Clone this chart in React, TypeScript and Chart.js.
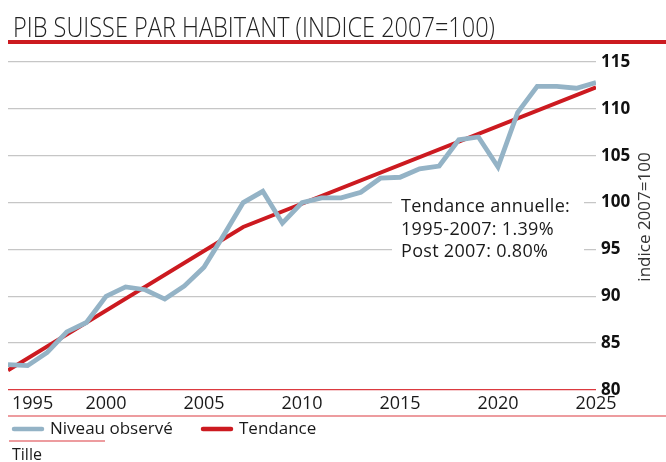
import React, { useEffect, useRef } from 'react'
import { Chart, registerables } from 'chart.js'

Chart.register(...registerables)

// values
const years = [
  1995, 1996, 1997, 1998, 1999, 2000, 2001, 2002, 2003, 2004, 2005, 2006, 2007, 2008, 2009, 2010,
  2011, 2012, 2013, 2014, 2015, 2016, 2017, 2018, 2019, 2020, 2021, 2022, 2023, 2024, 2025,
]
const observed = [
  82.7, 82.6, 84.0, 86.2, 87.2, 90.0, 91.0, 90.7, 89.7, 91.1, 93.1, 96.5, 100.0, 101.2, 97.8, 100.0,
  100.5, 100.5, 101.1, 102.6, 102.7, 103.6, 103.9, 106.7, 107.0, 103.8, 109.6, 112.4, 112.4, 112.2, 112.8,
]
const trendYears = [1995, 2007, 2025]
const trendValues = [82.1, 97.4, 112.3]

const xTickYears = [1995, 2000, 2005, 2010, 2015, 2020, 2025]
const yTickValues = [80, 85, 90, 95, 100, 105, 110, 115]

const chartTitle = 'PIB SUISSE PAR HABITANT (INDICE 2007=100)'
const yTitle = 'indice 2007=100'
const seriesNames = ['Niveau observé', 'Tendance']
const noteLines = ['Tendance annuelle:', '1995-2007: 1.39%', 'Post 2007: 0.80%']
const sourceText = 'Tille'

const BLUE = '#94b3c6'
const RED = '#cc1a20'
const RULE = '#dc3a40'
const GRID = '#c6c6c6'
const INK = '#1a1a1a'
const SANS = "'Open Sans', 'DejaVu Sans', sans-serif"

const decor = {
  id: 'decor',
  beforeDatasetsDraw(chart: Chart) {
    // white box behind the note hides the grid lines
    const { ctx } = chart
    ctx.save()
    ctx.fillStyle = '#fff'
    ctx.fillRect(392, 186, 192, 76)
    ctx.restore()
  },
  afterDraw(chart: Chart) {
    const { ctx } = chart
    const x = chart.scales.x
    const w = chart.width
    ctx.save()

    // title + thick rule (condensed to the reference width)
    ctx.fillStyle = '#222'
    ctx.font = `300 28px ${SANS}`
    ctx.textAlign = 'left'
    ctx.textBaseline = 'alphabetic'
    ctx.fillText(chartTitle, 13, 37, 482)
    ctx.fillStyle = RED
    ctx.fillRect(8, 40, w - 8, 4)

    // x labels
    ctx.fillStyle = INK
    ctx.font = `18px ${SANS}`
    ctx.textBaseline = 'middle'
    xTickYears.forEach((yr, i) => {
      const px = x.getPixelForValue(yr)
      if (i === 0) {
        ctx.textAlign = 'left'
        ctx.fillText(String(yr), px + 4, 404)
      } else {
        ctx.textAlign = 'center'
        ctx.fillText(String(yr), px, 404)
      }
    })

    // thin rules
    ctx.strokeStyle = RULE
    ctx.lineWidth = 1.2
    ctx.beginPath()
    ctx.moveTo(8, 416)
    ctx.lineTo(w, 416)
    ctx.moveTo(9, 441)
    ctx.lineTo(105, 441)
    ctx.stroke()

    // legend
    ctx.lineCap = 'round'
    ctx.lineWidth = 4.5
    const items = [
      { name: seriesNames[0], color: BLUE, x0: 14 },
      { name: seriesNames[1], color: RED, x0: 203 },
    ]
    ctx.font = `17px ${SANS}`
    ctx.textAlign = 'left'
    items.forEach(it => {
      ctx.strokeStyle = it.color
      ctx.beginPath()
      ctx.moveTo(it.x0, 429)
      ctx.lineTo(it.x0 + 28, 429)
      ctx.stroke()
      ctx.fillStyle = INK
      ctx.fillText(it.name, it.x0 + 36, 429)
    })

    // source
    ctx.font = `16px ${SANS}`
    ctx.fillText(sourceText, 12, 455)

    // note
    ctx.font = `18px ${SANS}`
    ;(ctx as any).letterSpacing = '0.3px'
    noteLines.forEach((line, i) => ctx.fillText(line, 401, 207 + i * 22.5))
    ;(ctx as any).letterSpacing = '0px'

    // y title, reading upwards
    ctx.translate(645, 217)
    ctx.rotate(-Math.PI / 2)
    ctx.textAlign = 'center'
    ctx.fillStyle = '#333'
    ctx.font = `17px ${SANS}`
    ctx.fillText(yTitle, 0, 0)

    ctx.restore()
  },
}

export default function App() {
  const canvasRef = useRef<HTMLCanvasElement>(null)
  const chartRef = useRef<Chart | null>(null)

  useEffect(() => {
    if (!canvasRef.current) return
    chartRef.current?.destroy()

    chartRef.current = new Chart(canvasRef.current, {
      type: 'line',
      data: {
        datasets: [
          {
            label: seriesNames[0],
            data: years.map((yr, i) => ({ x: yr, y: observed[i] })),
            borderColor: BLUE,
            backgroundColor: BLUE,
            borderWidth: 4.8,
            pointRadius: 0,
            tension: 0,
          },
          {
            label: seriesNames[1],
            data: trendYears.map((yr, i) => ({ x: yr, y: trendValues[i] })),
            borderColor: RED,
            backgroundColor: RED,
            borderWidth: 4,
            pointRadius: 0,
            tension: 0,
          },
        ],
      },
      options: {
        animation: false,
        responsive: true,
        maintainAspectRatio: false,
        layout: { padding: { left: 8, right: 0, top: 62, bottom: 72 } },
        plugins: {
          legend: { display: false },
          title: { display: false },
          tooltip: { enabled: false },
        },
        scales: {
          x: {
            type: 'linear',
            display: false,
            min: 1995,
            max: 2025,
          },
          y: {
            position: 'right',
            min: 80,
            max: 115,
            afterBuildTicks: scale => {
              scale.ticks = yTickValues.map(v => ({ value: v }))
            },
            afterFit: scale => {
              scale.width = 70
            },
            border: { display: false },
            grid: {
              drawTicks: false,
              lineWidth: 1.3,
              color: c => (c.tick && c.tick.value === 80 ? RULE : GRID),
            },
            ticks: {
              padding: 5,
              color: '#111',
              font: { family: SANS, size: 17, weight: 'bold' },
            },
          },
        },
      },
      plugins: [decor],
    })

    return () => {
      chartRef.current?.destroy()
      chartRef.current = null
    }
  }, [])

  return (
    <div style={{ position: 'absolute', left: 0, top: 0, width: 666, height: 462, background: '#fff' }}>
      <canvas ref={canvasRef} />
    </div>
  )
}
